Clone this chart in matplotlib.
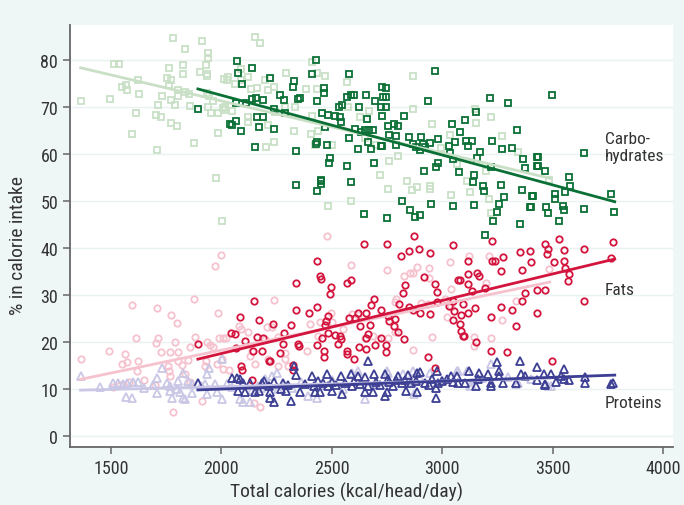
import numpy as np
import matplotlib.pyplot as plt

plt.rcParams['font.family'] = ['Roboto Condensed', 'DejaVu Sans']

# (total kcal, % of calories); early period = light, late period = dark
carbs_early = [
    (1365, 71.4), (1497, 71.7), (1513, 79.3), (1537, 79.1), (1552, 74.4), (1567, 74.8), (1574, 73.6),
    (1614, 68.8), (1626, 72.8), (1621, 75.9), (1594, 64.3), (1707, 60.8), (1704, 68.3), (1728, 67.9),
    (1713, 70.4), (1733, 72.3), (1771, 71.6), (1773, 66.6), (1801, 66.1), (1792, 70.4), (1783, 84.7),
    (1834, 82.4), (1763, 78.4), (1753, 76.2), (1772, 75.7), (1762, 74.8), (1825, 78.9), (1825, 77.0),
    (1805, 73.6), (1802, 72.3), (1835, 73.3), (1853, 72.8), (1858, 70.3), (1877, 62.3), (1914, 84.2),
    (1941, 81.5), (1941, 80.5), (1932, 78.9), (1905, 77.4), (1934, 77.1), (1934, 76.6), (1936, 73.1),
    (1945, 72.3), (1938, 70.0), (1953, 68.7), (1986, 68.7), (1986, 64.6), (1974, 54.9), (2001, 45.7),
    (2010, 76.0), (2027, 75.7), (1963, 71.4), (2006, 69.9), (2018, 69.4), (2152, 85.0), (2173, 83.7),
    (2031, 76.4), (2062, 74.9), (2089, 78.1), (2089, 75.7), (2122, 76.4), (2135, 73.8), (2162, 74.1),
    (2212, 73.6), (2239, 74.3), (2197, 75.7), (2292, 77.2), (2382, 73.9), (2411, 79.6), (2434, 77.3),
    (2470, 76.6), (2434, 73.8), (2568, 75.3), (2016, 70.0), (2047, 69.3), (2122, 66.8), (2122, 68.0),
    (2212, 66.3), (2243, 68.9), (2288, 70.0), (2333, 70.0), (2327, 65.0), (2202, 61.5), (2239, 62.5),
    (2406, 64.3), (2409, 68.2), (2502, 61.9), (2424, 61.9), (2440, 65.0), (2586, 50.0), (2482, 48.9),
    (2574, 70.0), (2628, 68.0), (2668, 69.3), (2867, 76.7), (2870, 69.7), (2956, 66.5), (3148, 69.6),
    (3151, 66.6), (3220, 68.0), (3271, 63.8), (3344, 60.4), (2801, 59.7), (2839, 54.3), (2864, 52.3),
    (2887, 53.1), (2944, 53.3), (2944, 52.5), (2755, 52.5), (3039, 51.4), (3125, 51.9), (3113, 54.3),
    (3212, 50.5), (3220, 47.6), (2994, 61.3), (3035, 64.1), (3065, 58.0), (3200, 56.5), (3482, 54.5),
    (2700, 62.0), (2760, 58.5), (2650, 63.5), (2720, 55.5),
]
carbs_late = [
    (1896, 69.6), (2039, 66.4), (2072, 79.8), (2077, 77.2), (2095, 75.0), (2137, 78.4), (2220, 76.2),
    (2327, 75.5), (2324, 74.4), (2267, 72.7), (2282, 71.6), (2348, 71.7), (2358, 72.0), (2411, 77.0),
    (2428, 80.1), (2464, 74.0), (2466, 73.1), (2434, 71.3), (2065, 70.9), (2110, 70.9), (2140, 71.8),
    (2157, 72.0), (2187, 71.6), (2237, 69.6), (2288, 68.7), (2162, 67.9), (2187, 67.9), (2065, 67.0),
    (2047, 66.3), (2087, 65.0), (2172, 65.9), (2239, 65.4), (2152, 61.6), (2338, 60.6), (2454, 68.7),
    (2481, 68.3), (2514, 68.2), (2537, 68.0), (2540, 66.9), (2469, 65.7), (2531, 70.0), (2546, 70.4),
    (2568, 72.1), (2585, 72.6), (2601, 72.7), (2655, 72.7), (2697, 71.3), (2578, 77.1), (2624, 70.1),
    (2660, 67.6), (2431, 62.7), (2427, 62.2), (2478, 61.9), (2579, 63.5), (2606, 65.3), (2632, 64.8),
    (2650, 65.2), (2668, 65.2), (2685, 65.2), (2665, 62.7), (2621, 61.1), (2677, 61.1), (2722, 61.7),
    (2493, 59.1), (2488, 58.1), (2570, 57.4), (2692, 58.1), (2338, 53.5), (2451, 54.6), (2451, 54.2),
    (2451, 53.6), (2433, 52.1), (2588, 54.0), (2648, 47.3), (2725, 70.1), (2733, 72.1), (2728, 74.3),
    (2968, 77.7), (2745, 74.1), (2746, 72.1), (2744, 70.1), (2726, 68.2), (2934, 71.4), (2826, 68.1),
    (2754, 66.0), (2784, 66.4), (2801, 66.0), (2758, 64.1), (2791, 63.8), (2726, 61.7), (2793, 61.9),
    (2850, 63.6), (2866, 62.2), (2905, 63.6), (2915, 62.2), (2947, 62.3), (2980, 63.3), (2881, 61.5),
    (2899, 60.9), (2921, 61.5), (3101, 67.2), (3152, 69.0), (3044, 66.4), (3080, 64.8), (3059, 62.6),
    (3032, 61.7), (3108, 62.9), (3135, 62.8), (3117, 61.7), (3218, 71.9), (3296, 71.0), (3224, 62.9),
    (3270, 61.1), (3318, 61.3), (3338, 65.2), (3170, 60.4), (3158, 59.1), (3035, 60.2), (3047, 58.9),
    (2979, 58.1), (2971, 57.2), (3075, 56.2), (2917, 56.4), (3223, 57.2), (3366, 59.0), (3377, 57.0),
    (3429, 59.4), (3429, 57.4), (3143, 55.5), (3139, 54.0), (3185, 53.3), (3188, 52.1), (3268, 53.4),
    (3279, 50.9), (3363, 52.3), (3407, 51.1), (2817, 50.1), (2852, 48.1), (2875, 46.7), (2900, 47.0),
    (2748, 46.4), (2948, 49.4), (3049, 48.9), (3144, 49.2), (3258, 49.4), (3250, 47.7), (3228, 45.9),
    (3397, 48.7), (3352, 45.2), (3193, 42.9), (3499, 72.5), (3434, 59.4), (3433, 57.4), (3464, 56.5),
    (3644, 60.2), (3573, 55.2), (3578, 53.3), (3558, 51.9), (3511, 51.5), (3510, 50.4), (3409, 51.2),
    (3401, 48.7), (3469, 48.7), (3479, 47.6), (3547, 48.9), (3553, 48.2), (3644, 48.4), (3529, 45.7),
    (3764, 51.5), (3778, 47.7),
]
fats_early = [
    (1363, 16.4), (1493, 18.2), (1565, 17.4), (1552, 15.3), (1573, 15.8), (1621, 16.0), (1620, 13.9),
    (1594, 28.0), (1612, 20.8), (1707, 27.2), (1712, 20.9), (1704, 19.9), (1772, 25.7), (1798, 24.1),
    (1725, 18.0), (1768, 17.9), (1802, 18.0), (1792, 20.1), (1757, 15.0), (1763, 13.9), (1767, 12.8),
    (1822, 15.2), (1805, 16.0), (1848, 16.2), (1835, 13.2), (1511, 10.4), (1877, 29.3), (1881, 21.1),
    (1858, 19.0), (1973, 36.2), (1998, 38.5), (1983, 26.3), (1936, 20.1), (1949, 19.4), (1961, 19.0),
    (1988, 20.8), (2006, 20.8), (2020, 21.0), (1930, 16.0), (1927, 15.0), (1979, 15.3), (2001, 16.4),
    (2009, 14.3), (2033, 14.1), (1914, 7.4), (2081, 23.5), (2087, 22.8), (2122, 22.1), (2137, 18.1),
    (2130, 17.1), (2152, 15.3), (2205, 23.3), (2197, 20.6), (2148, 7.0), (2175, 6.3), (2479, 42.6),
    (2587, 36.4), (2752, 35.4), (2828, 34.1), (2854, 34.7), (2866, 34.8), (2884, 35.9), (2941, 35.7),
    (2941, 33.6), (3036, 37.1), (2238, 29.0), (2496, 26.3), (2499, 24.2), (2552, 22.8), (2590, 26.0),
    (2620, 25.8), (2793, 29.1), (2786, 28.6), (2906, 28.4), (2936, 28.1), (3012, 29.1), (3042, 27.4),
    (3042, 31.3), (2228, 23.3), (2258, 21.2), (2288, 17.8), (2303, 15.0), (2348, 19.1), (2386, 18.1),
    (2436, 21.3), (2446, 24.2), (2402, 23.8), (2650, 21.0), (2688, 21.3), (2710, 20.6), (2755, 21.0),
    (2786, 22.1), (2956, 21.2), (3020, 25.3), (2210, 16.4), (2258, 15.0), (2288, 16.4), (2868, 18.4),
    (3122, 38.3), (3211, 38.4), (3200, 32.6), (3143, 21.1), (3143, 19.1), (3219, 21.0), (3271, 24.7),
    (3336, 28.8), (3482, 35.5), (1540, 10.8), (1580, 11.5), (1650, 12.0), (1700, 11.0), (1860, 11.5),
    (1780, 5.2),
]
fats_late = [
    (1896, 19.7), (2149, 28.8), (2086, 25.3), (2169, 24.8), (2044, 21.9), (2063, 21.8), (2106, 20.3),
    (2163, 21.2), (2187, 20.8), (2065, 18.7), (2142, 18.1), (2185, 18.1), (2087, 14.9), (2095, 14.1),
    (2137, 12.0), (2214, 15.9), (2647, 40.9), (2748, 40.9), (2872, 42.5), (2850, 39.4), (2896, 39.9),
    (2814, 38.3), (2943, 38.9), (3048, 40.6), (2431, 37.3), (2449, 34.0), (2450, 33.4), (2336, 32.5),
    (2587, 33.3), (2567, 32.5), (2495, 31.8), (2490, 30.2), (2917, 33.8), (2967, 32.3), (3072, 33.2),
    (2977, 30.7), (2831, 32.1), (2823, 30.4), (2693, 29.1), (2679, 27.9), (2721, 26.9), (2653, 26.2),
    (2431, 27.6), (2336, 26.9), (2481, 25.6), (2476, 24.5), (2469, 23.6), (2579, 25.2), (2605, 25.1),
    (2620, 26.2), (2805, 28.1), (2850, 27.5), (2866, 26.8), (2900, 26.2), (2944, 26.1), (2977, 28.6),
    (3031, 27.7), (3052, 26.7), (3049, 28.8), (2755, 25.6), (2786, 24.9), (2758, 24.5), (2782, 23.5),
    (2801, 22.2), (2825, 20.6), (2630, 23.5), (2674, 23.7), (2662, 21.8), (2653, 20.8), (2695, 19.5),
    (2283, 21.9), (2315, 23.6), (2264, 17.7), (2220, 15.9), (2280, 19.7), (2348, 19.6), (2353, 19.1),
    (2434, 19.4), (2454, 21.0), (2481, 21.9), (2514, 21.6), (2537, 21.3), (2541, 20.6), (2529, 19.6),
    (2567, 18.1), (2570, 17.4), (2601, 16.5), (2624, 19.0), (2654, 18.5), (2466, 18.1), (2463, 16.9),
    (2722, 20.9), (2745, 19.5), (2744, 18.0), (2934, 16.9), (2967, 14.5), (3049, 24.7), (3087, 22.4),
    (3096, 21.3), (3226, 41.6), (3775, 41.3), (3764, 38.0), (3528, 42.0), (3466, 40.9), (3478, 39.8),
    (3475, 38.7), (3552, 39.6), (3641, 39.8), (3351, 39.3), (3396, 39.4), (3275, 38.2), (3118, 37.3),
    (3224, 37.2), (3239, 37.2), (3404, 37.1), (3506, 37.1), (3550, 37.2), (3265, 35.1), (3359, 35.3),
    (3556, 35.7), (3573, 34.6), (3571, 33.0), (3117, 34.5), (3158, 34.7), (3165, 34.1), (3118, 32.3),
    (3195, 31.6), (3133, 30.9), (3430, 31.2), (3465, 31.2), (3376, 30.4), (3361, 28.7), (3080, 33.2),
    (3641, 28.8), (3095, 28.1), (3117, 26.3), (3086, 25.8), (3149, 27.2), (3265, 27.6), (3315, 26.9),
    (3430, 26.2), (3221, 25.4), (3080, 23.8), (3336, 23.5), (3099, 21.3), (3151, 20.1), (3219, 18.1),
    (3295, 17.9), (3499, 16.0), (2235, 23.8), (2323, 15.2), (2325, 14.1), (2396, 26.2),
]
proteins_early = [
    (1365, 12.8), (1511, 11.3), (1534, 11.3), (1556, 11.1), (1574, 11.3), (1601, 11.5), (1624, 11.6),
    (1568, 8.4), (1597, 8.1), (1710, 12.4), (1730, 14.5), (1710, 9.1), (1752, 11.4), (1767, 10.7),
    (1775, 8.2), (1805, 11.8), (1825, 13.5), (1835, 7.9), (1850, 11.8), (1866, 11.1), (1893, 11.4),
    (1908, 10.7), (1926, 11.1), (1934, 13.2), (1945, 14.6), (1971, 11.1), (2001, 16.4), (2024, 11.1),
    (1798, 10.0), (1813, 9.3), (1767, 9.6), (1828, 8.2), (1866, 9.1), (1934, 8.9), (1979, 9.3),
    (2001, 7.9), (2084, 7.9), (2099, 7.2), (2130, 7.2), (2167, 10.7), (2197, 12.1), (2228, 12.8),
    (2250, 13.5), (2258, 10.0), (2393, 8.6), (2431, 8.2), (2590, 13.5), (2620, 13.9), (2650, 7.9),
    (2748, 13.9), (3065, 13.9), (2873, 8.9), (3223, 15.3), (3110, 13.9), (3344, 11.4), (3481, 10.7),
    (3133, 10.7), (2755, 13.5), (2823, 13.2), (2868, 13.9), (2944, 13.4), (3072, 13.9), (3336, 11.1),
    (3125, 10.7), (3494, 10.7), (2050, 10.5), (2100, 11.2), (2140, 9.8), (2180, 10.3), (2280, 11.0),
    (2320, 10.2), (2360, 11.5), (2450, 10.8), (2500, 11.9), (2550, 10.1), (2700, 11.2), (2850, 11.8),
    (2900, 12.3), (3000, 12.0), (3180, 12.4), (3300, 12.6), (3400, 12.2), (1650, 10.2), (1690, 10.8),
    (1450, 10.5),
]
proteins_late = [
    (1896, 11.3), (2047, 12.4), (2069, 12.3), (2084, 12.1), (2099, 11.3), (2130, 11.3), (2077, 9.6),
    (2107, 9.4), (2152, 9.4), (2172, 9.6), (2182, 11.4), (2193, 11.8), (2217, 10.7), (2329, 15.0),
    (2336, 13.0), (2238, 11.6), (2314, 7.5), (2240, 7.2), (2220, 9.3), (2270, 10.0), (2291, 9.6),
    (2356, 9.4), (2409, 12.8), (2439, 11.8), (2477, 13.2), (2484, 10.7), (2446, 9.3), (2541, 12.8),
    (2547, 8.9), (2587, 13.2), (2590, 10.7), (2620, 12.8), (2650, 12.5), (2692, 13.3), (2665, 10.7),
    (2650, 9.3), (2687, 9.4), (2740, 13.2), (2753, 12.1), (2748, 9.3), (2778, 10.7), (2801, 12.8),
    (2816, 11.4), (2846, 13.0), (2861, 11.4), (2884, 13.5), (2900, 13.7), (2921, 11.4), (2952, 12.1),
    (2976, 13.9), (2982, 11.4), (2971, 10.2), (3038, 12.8), (3068, 12.8), (3072, 11.4), (2884, 9.3),
    (2835, 9.6), (2740, 8.6), (2424, 9.3), (2499, 9.6), (2665, 16.0), (2971, 8.2), (3351, 16.0),
    (3250, 15.7), (3257, 13.9), (3431, 14.8), (3552, 14.4), (3122, 13.9), (3168, 13.5), (3206, 13.2),
    (3258, 12.8), (3356, 13.2), (3376, 12.8), (3462, 13.2), (3492, 13.2), (3537, 12.8), (3552, 12.1),
    (3645, 12.5), (3102, 11.4), (3163, 12.1), (3222, 11.4), (3274, 11.3), (3335, 11.4), (3431, 12.0),
    (3517, 11.6), (3645, 11.4), (3574, 12.0), (3465, 11.1), (3774, 11.4), (3762, 11.1), (3155, 10.7),
    (3220, 10.6), (3467, 10.9), (2500, 11.6), (2520, 11.0), (2560, 11.4), (2600, 11.8), (2630, 11.2),
    (2700, 11.6), (2720, 11.0), (2760, 11.6), (2790, 11.9), (2830, 12.0), (2880, 11.8), (2940, 11.0),
    (3000, 11.8), (3020, 12.2), (3050, 11.6), (2280, 11.3), (2300, 10.8), (2380, 11.2), (2420, 10.6),
    (2460, 11.4), (2220, 8.2),
]

# linear fit lines, endpoints
fit_x_early = [1363, 3487]
fit_x_late = [1894, 3781]
carbs_fit_early = [78.4, 54.9]
carbs_fit_late = [73.9, 49.9]
fats_fit_early = [12.1, 32.8]
fats_fit_late = [16.4, 37.7]
proteins_fit_early = [9.8, 12.3]
proteins_fit_late = [9.85, 13.0]

labels = ['Carbo-\nhydrates', 'Fats', 'Proteins']
label_y = [61.5, 31.3, 7.2]

x_ticks = [1500, 2000, 2500, 3000, 3500, 4000]
y_ticks = list(range(0, 90, 10))

green_dark, green_light = '#0B7035', '#C9E0C6'
red_dark, red_light = '#D3153D', '#F5C2CE'
blue_dark, blue_light = '#3C3F93', '#C9C7E5'

fig = plt.figure(figsize=(6.84, 5.06), dpi=100, facecolor='#EFF6F6')
ax = fig.add_axes([0.1023, 0.1146, 0.8817, 0.834])
ax.set_facecolor('white')

series = [
    (carbs_early, 's', green_light, 4.6), (fats_early, 'o', red_light, 4.6), (proteins_early, '^', blue_light, 5.4),
    (carbs_late, 's', green_dark, 4.6), (fats_late, 'o', red_dark, 4.6), (proteins_late, '^', blue_dark, 5.4),
]
for pts, marker, col, ms in series:
    arr = np.array(pts)
    ax.plot(arr[:, 0], arr[:, 1], linestyle='none', marker=marker, ms=ms,
            mfc='none', mec=col, mew=1.3, zorder=3)

fits = [
    (fit_x_early, carbs_fit_early, green_light), (fit_x_early, fats_fit_early, red_light),
    (fit_x_early, proteins_fit_early, blue_light),
    (fit_x_late, carbs_fit_late, green_dark), (fit_x_late, fats_fit_late, red_dark),
    (fit_x_late, proteins_fit_late, blue_dark),
]
for xs, ys, col in fits:
    ax.plot(xs, ys, color=col, lw=2, zorder=4)

for lab, ly in zip(labels, label_y):
    ax.text(3735, ly, lab, ha='left', va='center', fontsize=12.5, color='#333333', linespacing=1.2)

ax.set_xlim(1315, 4045)
ax.set_ylim(-2.3, 87.5)
ax.set_xticks(x_ticks)
ax.set_yticks(y_ticks)
ax.grid(axis='y', color='#EAF2F3', lw=1.0, zorder=0)
ax.set_axisbelow(True)

for s in ['top', 'right']:
    ax.spines[s].set_visible(False)
for s in ['left', 'bottom']:
    ax.spines[s].set_color('#666666')
    ax.spines[s].set_linewidth(1.3)
ax.tick_params(direction='out', length=5, width=1.1, color='#666666', labelsize=13, labelcolor='#333333')

ax.set_xlabel('Total calories (kcal/head/day)', fontsize=14, color='#333333')
ax.set_ylabel('% in calorie intake', fontsize=14, color='#333333')
ax.xaxis.set_label_coords(0.459, -0.083)
ax.yaxis.set_label_coords(-0.071, 0.479)

fig.savefig('out.png', dpi=100, facecolor=fig.get_facecolor())
